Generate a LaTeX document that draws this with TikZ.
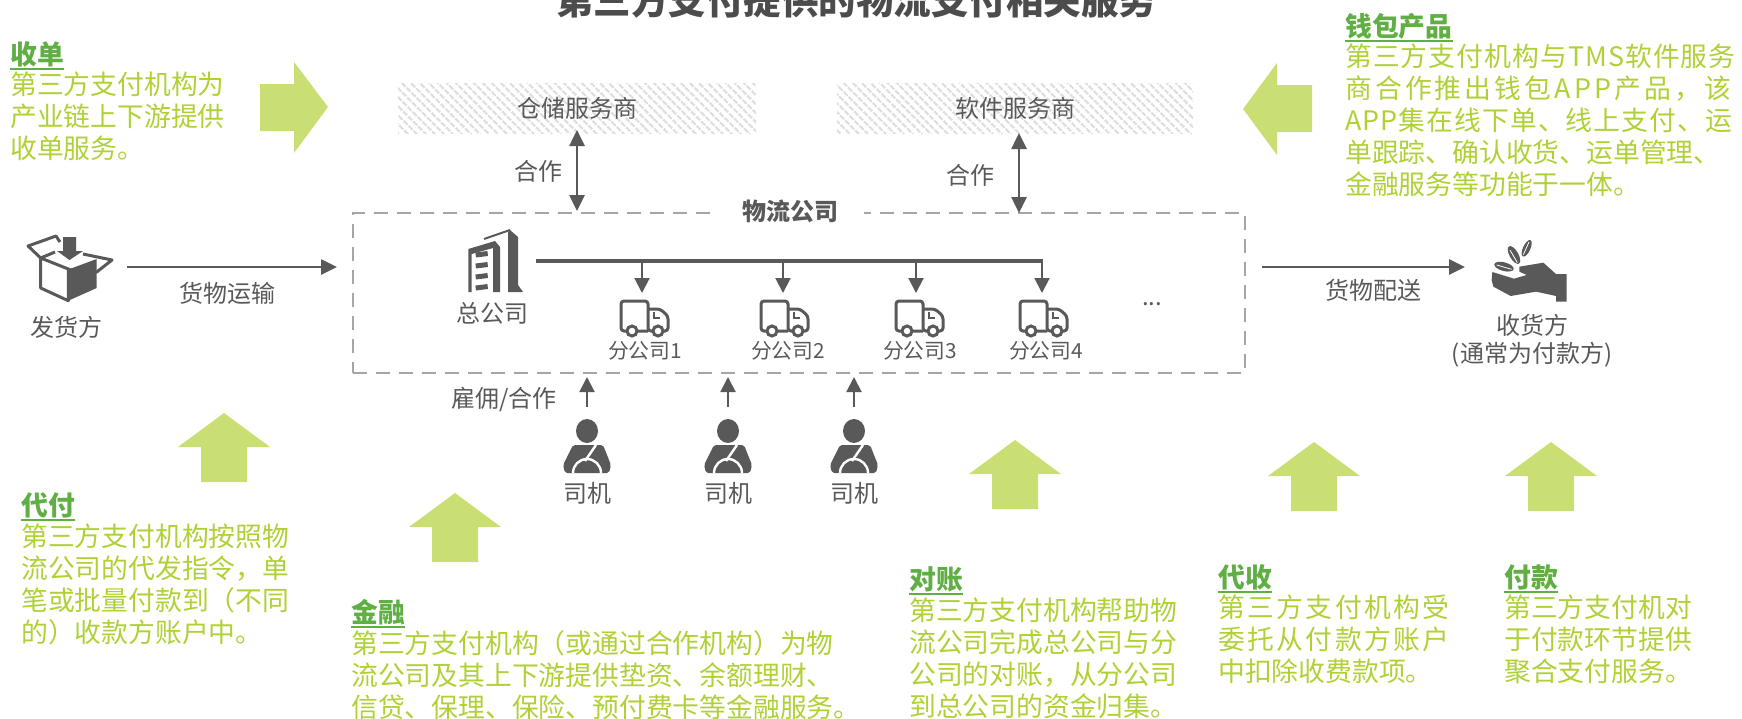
\documentclass[tikz,border=0pt]{standalone}
\usepackage{fontspec}
\setmainfont{Noto Sans CJK SC}
\usepackage{tikz}
\usetikzlibrary{arrows.meta, patterns.meta}
\definecolor{bodygreen}{HTML}{AFD136}
\definecolor{headgreen}{HTML}{5FAF45}
\definecolor{arrowgreen}{HTML}{C9DF73}
\definecolor{icongray}{HTML}{595959}
\definecolor{framegray}{HTML}{A6A6A6}
\newcommand{\lsp}[2]{{\addfontfeature{LetterSpace=#1}#2}}
\tikzset{
  grayline/.style={draw=icongray, line width=2.6pt},
  grayarrow/.style={grayline, -{Triangle[length=16pt,width=15pt]}},
  graytwoway/.style={grayline, {Triangle[length=16pt,width=15pt]}-{Triangle[length=16pt,width=15pt]}},
  grayarrowsmall/.style={draw=icongray, line width=2pt, -{Triangle[length=15pt,width=15pt]}},
  label/.style={inner sep=0pt, text=icongray, font=\fontsize{24}{28}\selectfont},
  bodytext/.style={anchor=north west, align=left, inner sep=0pt, text=bodygreen, font=\fontsize{26.8}{32}\selectfont},
  headtext/.style={anchor=west, inner xsep=0pt, inner ysep=2pt, text=headgreen, font=\fontsize{26.8}{32}\selectfont\bfseries},
  headrule/.style={draw=headgreen, line width=2.5pt},
  hatchbox/.style={inner sep=0pt, pattern={Lines[angle=-45,distance=6.5pt,line width=2.4pt]}, pattern color=black!12},
  truck/.pic={
    \draw[icongray, line width=3pt, rounded corners=3pt] (3,15) -- (-24,15) -- (-24,-15) -- (3,-15) -- (3,15) -- (23,15) -- (23,0) -- (15,-7) -- (3,-7);
    \draw[icongray, line width=2.4pt] (9,-4) -- (9,2) -- (15,2);
    \draw[icongray, line width=3pt, fill=white] (-13,15) circle (5);
    \draw[icongray, line width=3pt, fill=white] (13,15) circle (5);
  },
  driver/.pic={
    \fill[icongray] (0,0) ellipse (11 and 12);
    \fill[icongray, rounded corners=2pt] (-14,14) -- (16,14) -- (24,34) -- (22,42) -- (-22,42) -- (-24,34) -- cycle;
    \draw[white, line width=2.4pt] (-14,42) arc (180:360:14);
    \draw[white, line width=2.4pt] (9,14) -- (-2,30);
  }
}
\begin{document}
\begin{tikzpicture}[x=1pt, y=-1pt]
  \useasboundingbox (0,0) rectangle (1742,718);
  % title
  \node[inner sep=0pt, text=icongray!85!black, font=\fontsize{37.5}{40}\selectfont\bfseries] (title) at (856,0) {第三方支付提供的物流支付相关服务};
  % big arrows
  \fill[arrowgreen] (260,84) -- (294,84) -- (294,62) -- (328,107) -- (294,153) -- (294,131) -- (260,131) -- cycle;
  \fill[arrowgreen] (1312,85) -- (1277,85) -- (1277,63) -- (1243,109) -- (1277,155) -- (1277,132) -- (1312,132) -- cycle;
  \foreach \tipx/\tipy/\basey/\endy in {224/413/447/482, 455/493/527/562, 1015/440/474/509, 1314/442/476/511, 1551/442/476/511}
    \fill[arrowgreen] (\tipx,\tipy) -- ({\tipx+46},\basey) -- ({\tipx+23},\basey) -- ({\tipx+23},\endy) -- ({\tipx-23},\endy) -- ({\tipx-23},\basey) -- ({\tipx-46},\basey) -- cycle;
  % partner boxes
  \node[hatchbox, minimum width=358pt, minimum height=50pt] (store) at (577,108) {};
  \node[hatchbox, minimum width=356pt, minimum height=50pt] (soft) at (1015,108) {};
  \node[label] (storetxt) at (577,108) {仓储服务商};
  \node[label] (softtxt) at (1015,108) {软件服务商};
  % company frame
  \node[draw=framegray, dashed, dash pattern=on 14pt off 9pt, line width=2.4pt, minimum width=892pt, minimum height=160pt, inner sep=0pt] (frame) at (799,293) {};
  \node[inner xsep=26pt, inner ysep=2pt, fill=white, text=icongray, font=\fontsize{24}{28}\selectfont\bfseries] (company) at (790,211) {物流公司};
  \coordinate (storeend) at (577,130);
  \coordinate (frameA) at (577,211);
  \coordinate (softend) at (1019,133);
  \coordinate (frameB) at (1019,213);
  \draw[graytwoway] (storeend) -- (frameA);
  \draw[graytwoway] (softend) -- (frameB);
  \node[label] (cooptxtA) at (538,171) {合作};
  \node[label] (cooptxtB) at (970,175) {合作};
  % sender
  \draw[icongray, line width=3pt, line join=round, fill=white] (68.3,269) -- (40.7,258) -- (40.7,288) -- (68.3,300.7) -- cycle;
  \fill[icongray] (67,270) -- (96.7,259) -- (96.7,288) -- (68.3,300.7) -- cycle;
  \draw[icongray, line width=3pt, line join=round] (40.7,258) -- (28,246) -- (56,236) -- (60,242);
  \draw[icongray, line width=3pt, line join=round] (40.7,258) -- (55,252);
  \draw[icongray, line width=3pt, line join=round] (83,254) -- (112,260) -- (96.7,272) -- (76,272) -- (68.3,269);
  \fill[icongray] (63,237) -- (76,237) -- (76,251) -- (83,251) -- (69.5,260) -- (57,251) -- (63,251) -- cycle;
  \node[label] (sender) at (66,327) {发货方};
  \coordinate (senderout) at (127,267);
  \coordinate (framein) at (337,267);
  \draw[grayarrow] (senderout) -- (framein);
  \node[label] (shiptxt) at (227,293) {货物运输};
  % head office
  \fill[icongray] (468.3,292) -- (468.3,249) -- (495,241) -- (500,247) -- (500,292) -- (493,292) -- (493,248) -- (471.7,254) -- (471.7,292) -- cycle;
  \draw[icongray, line width=2pt] (484,239) -- (510,230);
  \fill[icongray] (508,292) -- (508,232) -- (510,230) -- (518,237) -- (518,285) -- (523,292) -- cycle;
  \foreach \floory in {255,266,277,288}
    \draw[icongray, line width=5pt] (475.7,\floory) -- (487.7,{\floory-1.5});
  \node[label] (hq) at (492,313) {总公司};
  \coordinate (busstart) at (536,261);
  \coordinate (busend) at (1043,261);
  \draw[icongray, line width=3.6pt] (busstart) -- (busend);
  % branches
  \foreach \busx/\truckx/\labx/\num in {642/645/645/1, 783/785/788/2, 916/920/920/3, 1042/1044/1046/4} {
    \coordinate (bus\num) at (\busx,260);
    \coordinate (truck\num) at (\busx,293);
    \draw[grayarrowsmall] (bus\num) -- (truck\num);
    \pic at (\truckx,316) {truck};
    \node[label, font=\fontsize{20.8}{24}\selectfont] (branch\num) at (\labx,351) {分公司\num};
  }
  \node[label] (more) at (1152,304) {...};
  % drivers
  \foreach \drvx/\num in {587/1, 728/2, 854/3} {
    \pic at (\drvx,431) {driver};
    \node[label] (driver\num) at (\drvx,493) {司机};
    \coordinate (drvout\num) at (\drvx,407);
    \coordinate (frameup\num) at (\drvx,377);
    \draw[grayarrowsmall] (drvout\num) -- (frameup\num);
  }
  \node[label] (hiretxt) at (504,399) {雇佣/合作};
  % receiver
  \begin{scope}[shift={(1460,220)}, x=0.3333pt, y=-0.3333pt]
    \fill[icongray] (97,156) -- (162,176) -- (200,165) -- (178,155) -- (178,140) -- (250,128) -- (288,162) -- (320,162) -- (320,245) -- (288,245) -- (288,228) -- (228,215) -- (152,228) -- (100,200) -- (95,180) -- cycle;
    \fill[icongray, rotate around={-15:(132,140)}] (132,140) ellipse (30 and 13);
    \fill[icongray, rotate around={30:(162,105)}] (162,105) ellipse (13 and 30);
    \fill[icongray, rotate around={-25:(200,85)}] (200,85) ellipse (11 and 27);
    \draw[white, line width=0.8pt] (110,135) -- (155,148);
    \draw[white, line width=0.8pt] (150,90) -- (172,128);
    \draw[white, line width=0.8pt] (207,66) -- (190,104);
  \end{scope}
  \coordinate (frameout) at (1262,267);
  \coordinate (recvin) at (1465,267);
  \draw[grayarrow] (frameout) -- (recvin);
  \node[label] (delivertxt) at (1373,290) {货物配送};
  \node[label, align=center] (receiver) at (1532,341) {收货方\\(通常为付款方)};
  % green notes
  \node[headtext] (headA) at (10,54) {收单};
  \draw[headrule] (headA.south west) -- (headA.south east);
  \node[bodytext] (bodyA) at (10,72) {第三方支付机构为\\产业链上下游提供\\收单服务。};
  \node[headtext] (headB) at (1345,26) {钱包产品};
  \draw[headrule] (headB.south west) -- (headB.south east);
  \node[bodytext] (bodyB) at (1345,44) {\lsp{4}{第三方支付机构与TMS软件服务}\\\lsp{11.7}{商合作推出钱包APP产品，该}\\\lsp{4}{APP集在线下单、线上支付、运}\\单跟踪、确认收货、运单管理、\\金融服务等功能于一体。};
  \node[headtext] (headC) at (21,505) {代付};
  \draw[headrule] (headC.south west) -- (headC.south east);
  \node[bodytext] (bodyC) at (21,524) {第三方支付机构按照物\\流公司的代发指令，单\\笔或批量付款到（不同\\的）收款方账户中。};
  \node[headtext] (headD) at (351,612) {金融};
  \draw[headrule] (headD.south west) -- (headD.south east);
  \node[bodytext] (bodyD) at (351,630) {第三方支付机构（或通过合作机构）为物\\流公司及其上下游提供垫资、余额理财、\\信贷、保理、保险、预付费卡等金融服务。};
  \node[headtext] (headE) at (909,579) {对账};
  \draw[headrule] (headE.south west) -- (headE.south east);
  \node[bodytext] (bodyE) at (909,598) {第三方支付机构帮助物\\流公司完成总公司与分\\公司的对账，从分公司\\到总公司的资金归集。};
  \node[headtext] (headF) at (1218,577) {代收};
  \draw[headrule] (headF.south west) -- (headF.south east);
  \node[bodytext] (bodyF) at (1218,595) {\lsp{9}{第三方支付机构受}\\\lsp{9}{委托从付款方账户}\\中扣除收费款项。};
  \node[headtext] (headG) at (1504,577) {付款};
  \draw[headrule] (headG.south west) -- (headG.south east);
  \node[bodytext] (bodyG) at (1504,595) {第三方支付机对\\于付款环节提供\\聚合支付服务。};
\end{tikzpicture}
\end{document}
